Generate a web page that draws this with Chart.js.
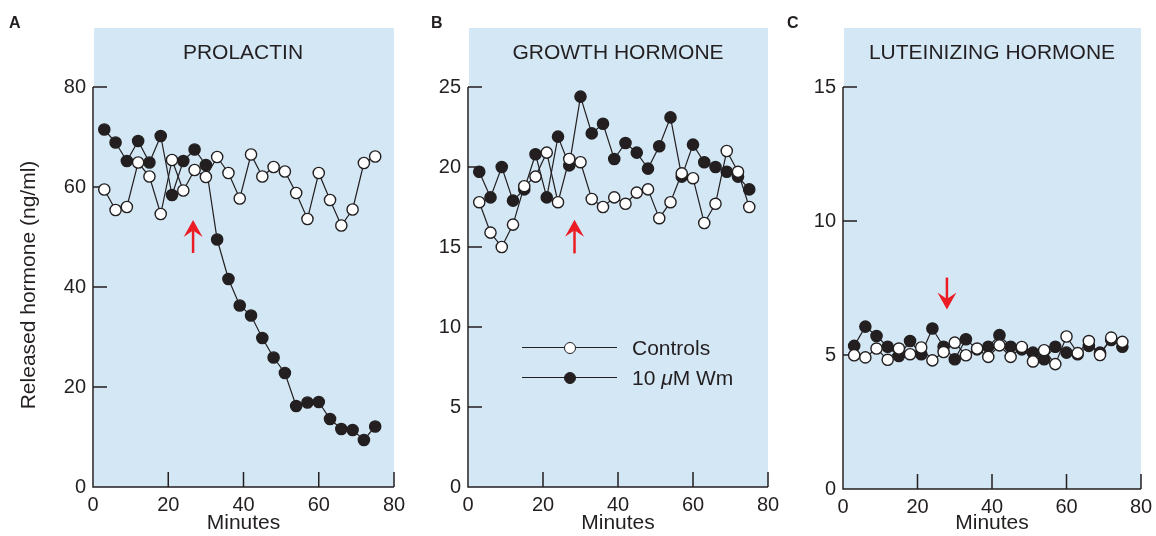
<!DOCTYPE html>
<html>
<head>
<meta charset="utf-8">
<script src="https://cdn.jsdelivr.net/npm/chart.js@4.4.1/dist/chart.umd.min.js"></script>
<style>
body{margin:0;background:#fff;width:1156px;height:536px;position:relative;overflow:hidden;font-family:'Liberation Sans',Arial,sans-serif;color:#231f20}
canvas{position:absolute;top:0}
.lt{position:absolute;font-weight:bold;font-size:16px;line-height:18px}
.ttl{position:absolute;top:40px;font-size:21px;line-height:24px;white-space:nowrap;transform:translateX(-50%)}
.ytl{position:absolute;left:-122px;top:273px;width:300px;text-align:center;font-size:21px;line-height:24px;transform:rotate(-90deg);white-space:nowrap}
.lg{position:absolute;left:522px;height:24px;width:260px}
.lg .ln{position:absolute;left:0;top:11px;width:95px;height:1.3px;background:#231f20}
.lg .mk{position:absolute;left:42px;top:5.5px;width:10px;height:10px;border:1.4px solid #231f20;border-radius:50%}
.lg .tx{position:absolute;left:110px;top:0;font-size:21px;line-height:24px;white-space:nowrap}
</style>
</head>
<body>
<canvas id="chA" width="412" height="536" style="left:0"></canvas>
<canvas id="chB" width="390" height="536" style="left:400px"></canvas>
<canvas id="chC" width="400" height="536" style="left:775px"></canvas>

<div class="lt" style="left:9px;top:14px">A</div>
<div class="lt" style="left:431px;top:14px">B</div>
<div class="lt" style="left:787px;top:14px">C</div>
<div class="ttl" style="left:243px">PROLACTIN</div>
<div class="ttl" style="left:618px">GROWTH HORMONE</div>
<div class="ttl" style="left:992px">LUTEINIZING HORMONE</div>
<div class="ytl">Released hormone (ng/ml)</div>
<div class="lg" style="top:336px"><div class="ln"></div><div class="mk" style="background:#fff"></div><div class="tx">Controls</div></div>
<div class="lg" style="top:366px"><div class="ln"></div><div class="mk" style="background:#231f20"></div><div class="tx">10 <i>μ</i>M Wm</div></div>

<script>
const TIMES = [3,6,9,12,15,18,21,24,27,30,33,36,39,42,45,48,51,54,57,60,63,66,69,72,75];

const PRL_CTRL = [59.5,55.4,56.0,64.9,62.1,54.6,65.4,59.3,63.4,62.0,66.0,62.8,57.7,66.5,62.1,64.0,63.1,58.8,53.6,62.8,57.4,52.3,55.5,64.8,66.1];
const PRL_WM   = [71.5,68.9,65.2,69.2,64.9,70.2,58.4,65.2,67.5,64.4,49.5,41.6,36.3,34.3,29.8,25.9,22.8,16.2,16.9,17.0,13.6,11.6,11.4,9.4,12.1];

const GH_CTRL = [17.8,15.9,15.0,16.4,18.8,19.4,20.9,17.8,20.5,20.3,18.0,17.5,18.1,17.7,18.4,18.6,16.8,17.8,19.6,19.3,16.5,17.7,21.0,19.7,17.5];
const GH_WM   = [19.7,18.1,20.0,17.9,18.6,20.8,18.1,21.9,20.1,24.4,22.1,22.7,20.5,21.5,20.9,19.9,21.3,23.1,19.4,21.4,20.3,20.0,19.7,19.4,18.6];

const LH_CTRL = [4.99,4.91,5.24,4.82,5.24,5.03,5.28,4.80,5.11,5.46,4.99,5.24,4.93,5.36,4.93,5.30,4.76,5.18,4.66,5.69,5.07,5.52,5.00,5.65,5.49];
const LH_WM   = [5.34,6.06,5.71,5.31,4.96,5.52,5.03,5.99,5.31,4.84,5.59,5.21,5.31,5.74,5.31,5.21,5.09,4.84,5.31,5.09,5.03,5.34,5.09,5.56,5.31];

const X_TICKS   = [0,20,40,60,80];
const PRL_TICKS = [0,20,40,60,80];
const GH_TICKS  = [0,5,10,15,20,25];
const LH_TICKS  = [0,5,10,15];

const INK = '#231f20';
const BLUE = '#d3e7f5';
const RED = '#ec1c24';
const FONT = "'Liberation Sans', Arial, sans-serif";

// blue panel, hand-drawn axes with inward ticks, red arrow
const panelDeco = {
  id: 'panelDeco',
  beforeDraw(chart, args, o) {
    const {ctx, chartArea: a} = chart;
    ctx.save();
    ctx.fillStyle = BLUE;
    ctx.fillRect(a.left + 1, o.bgTop, a.right - a.left - 1, a.bottom - o.bgTop);
    ctx.restore();
  },
  beforeDatasetsDraw(chart) {
    const {ctx, scales: {x, y}} = chart;
    const x0 = x.getPixelForValue(x.min), x1 = x.getPixelForValue(x.max);
    const y0 = y.getPixelForValue(0), y1 = y.getPixelForValue(y.max);
    ctx.save();
    ctx.strokeStyle = INK;
    ctx.lineWidth = 1.5;
    ctx.beginPath();
    ctx.moveTo(x0, y1); ctx.lineTo(x0, y0); ctx.lineTo(x1, y0);
    y.ticks.forEach(t => { if (t.value > 0) { const p = y.getPixelForValue(t.value); ctx.moveTo(x0, p); ctx.lineTo(x0 + 14, p); } });
    x.ticks.forEach(t => { if (t.value > 0) { const p = x.getPixelForValue(t.value); ctx.moveTo(p, y0); ctx.lineTo(p, y0 - 15); } });
    ctx.stroke();
    ctx.restore();
  },
  afterDatasetsDraw(chart, args, o) {
    const ar = o.arrow;
    if (!ar) return;
    const {ctx, scales: {x, y}} = chart;
    const px = x.getPixelForValue(ar.t);
    const tip = y.getPixelForValue(ar.tip), tail = y.getPixelForValue(ar.tail);
    const d = tail > tip ? 1 : -1;
    const L = 17, W = 9.5;
    ctx.save();
    ctx.strokeStyle = RED; ctx.fillStyle = RED; ctx.lineWidth = 2.5;
    ctx.beginPath(); ctx.moveTo(px, tail); ctx.lineTo(px, tip + d * L * 0.6); ctx.stroke();
    ctx.beginPath();
    ctx.moveTo(px, tip); ctx.lineTo(px - W, tip + d * L); ctx.lineTo(px, tip + d * L * 0.62); ctx.lineTo(px + W, tip + d * L);
    ctx.closePath(); ctx.fill();
    ctx.restore();
  }
};

function ds(vals, fill) {
  return {
    data: TIMES.map((t, i) => ({x: t, y: vals[i]})),
    borderColor: INK, borderWidth: 1.2, tension: 0,
    pointRadius: 5.6, pointBorderWidth: 1.4, pointBorderColor: INK,
    pointBackgroundColor: fill, clip: false
  };
}

function mkPanel(id, c) {
  const tickFont = {family: FONT, size: 20};
  return new Chart(document.getElementById(id), {
    type: 'line',
    data: {datasets: [ds(c.ctrl, '#ffffff'), ds(c.wm, INK)]},
    options: {
      responsive: false, animation: false, events: [],
      layout: {autoPadding: false, padding: {left: 0, right: c.padR, top: 87, bottom: 0}},
      plugins: {legend: {display: false}, tooltip: {enabled: false},
        panelDeco: {bgTop: 28, arrow: c.arrow}},
      scales: {
        x: {type: 'linear', min: 0, max: 80,
          afterBuildTicks: s => { s.ticks = X_TICKS.map(v => ({value: v})); },
          afterFit: s => { s.height = c.xH; },
          grid: {display: false, drawTicks: false}, border: {display: false},
          ticks: {font: tickFont, color: INK, padding: 6, maxRotation: 0},
          title: {display: true, text: 'Minutes', font: {family: FONT, size: 21}, color: INK, padding: {top: 0, bottom: 0}}},
        y: {type: 'linear', min: 0, max: c.yMax,
          afterBuildTicks: s => { s.ticks = c.yTicks.map(v => ({value: v})); },
          afterFit: s => { s.width = c.yW; },
          grid: {display: false, drawTicks: false}, border: {display: false},
          ticks: {font: tickFont, color: INK, padding: 7}}
      }
    },
    plugins: [panelDeco]
  });
}

mkPanel('chA', {ctrl: PRL_CTRL, wm: PRL_WM, yMax: 80, yTicks: PRL_TICKS, yW: 93, padR: 18, xH: 49,
  arrow: {t: 26.6, tip: 53.4, tail: 46.8}});
mkPanel('chB', {ctrl: GH_CTRL, wm: GH_WM, yMax: 25, yTicks: GH_TICKS, yW: 68, padR: 22, xH: 49,
  arrow: {t: 28.4, tip: 16.7, tail: 14.6}});
mkPanel('chC', {ctrl: LH_CTRL, wm: LH_WM, yMax: 15, yTicks: LH_TICKS, yW: 68, padR: 34, xH: 47,
  arrow: {t: 27.9, tip: 6.70, tail: 7.89}});
</script>
</body>
</html>
